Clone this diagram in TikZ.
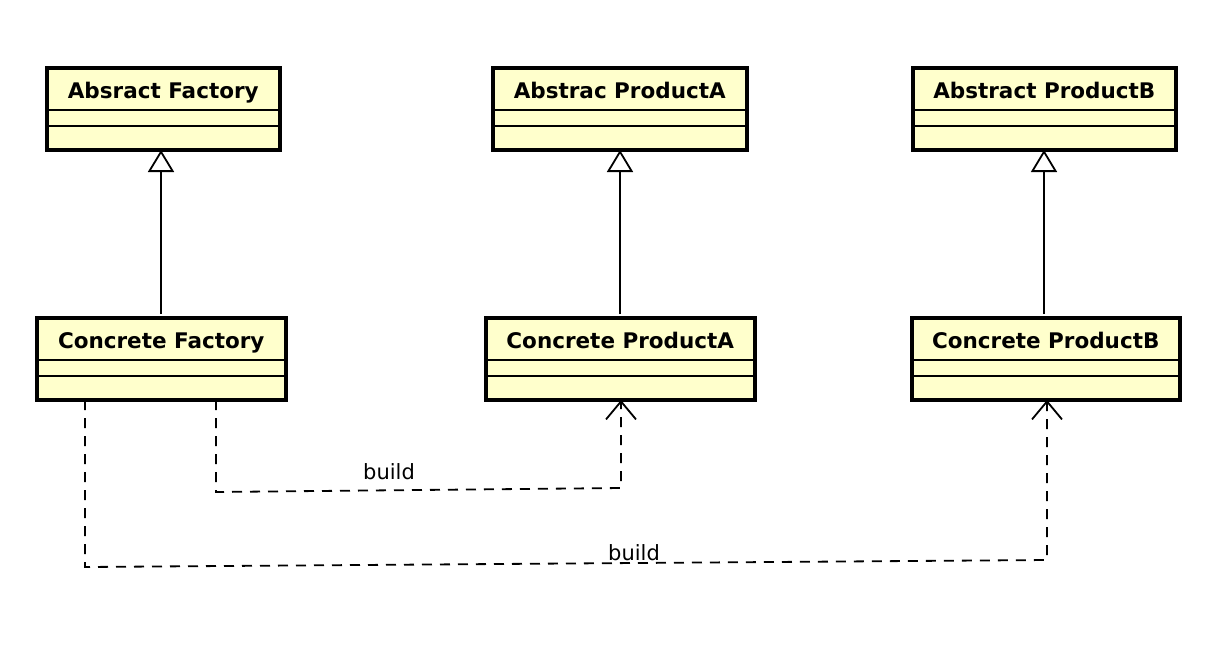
\documentclass[tikz,border=0pt]{standalone}
\usepackage{fontspec}
\setmainfont{DejaVu Sans}
\usetikzlibrary{arrows.meta,calc}
\definecolor{umlfill}{RGB}{255,255,204}
\tikzset{
  umlbox/.style={draw=black, line width=3.5pt, fill=umlfill, anchor=north west, inner sep=0pt},
  umltitle/.style={font=\bfseries\fontsize{21.5}{24}\selectfont, inner sep=0pt, anchor=base},
  sepline/.style={line width=1.6pt},
  gen/.style={line width=1.8pt, -{Triangle[open, length=22pt, width=26pt, line width=1.8pt]}},
  dep/.style={line width=1.8pt, dash pattern=on 10pt off 8pt, -{Straight Barb[length=18pt, width=30pt, line width=1.8pt]}},
  lbl/.style={font=\fontsize{21}{24}\selectfont, inner sep=0pt, anchor=base}
}
\newcommand{\umlclass}[6]{%
  \node[umlbox, minimum width=#4-#2, minimum height=#5-#3] (#1) at (#2,#3) {};
  \node[umltitle] (#1-t) at ($(#1.north)+(0,32)$) {#6};
  \draw[sepline] ($(#1.north west)+(0,44)$) -- ($(#1.north east)+(0,44)$);
  \draw[sepline] ($(#1.north west)+(0,60)$) -- ($(#1.north east)+(0,60)$);
}
\begin{document}
\begin{tikzpicture}[x=1pt, y=-1pt]
\useasboundingbox (0,0) rectangle (1214,646);
\umlclass{af}{45}{66}{278}{148}{Absract Factory}
\umlclass{apa}{491}{66}{745}{148}{Abstrac ProductA}
\umlclass{apb}{911}{66}{1174}{148}{Abstract ProductB}
\umlclass{cf}{35}{316}{284}{398}{Concrete Factory}
\umlclass{cpa}{484}{316}{753}{398}{Concrete ProductA}
\umlclass{cpb}{910}{316}{1178}{398}{Concrete ProductB}

\draw[gen] (161,314) -- (161,150);
\draw[gen] (620,314) -- (620,150);
\draw[gen] (1044,314) -- (1044,150);

\coordinate (d1a) at (216,492);
\coordinate (d1b) at (621,488);
\draw[dep] (216,400) -- (d1a) -- (d1b) -- (621,400);
\node[lbl] (b1) at (389,479) {build};

\coordinate (d2a) at (85,567);
\coordinate (d2b) at (1047,560);
\draw[dep] (85,400) -- (d2a) -- (d2b) -- (1047,400);
\node[lbl] (b2) at (634,560) {build};
\end{tikzpicture}
\end{document}
